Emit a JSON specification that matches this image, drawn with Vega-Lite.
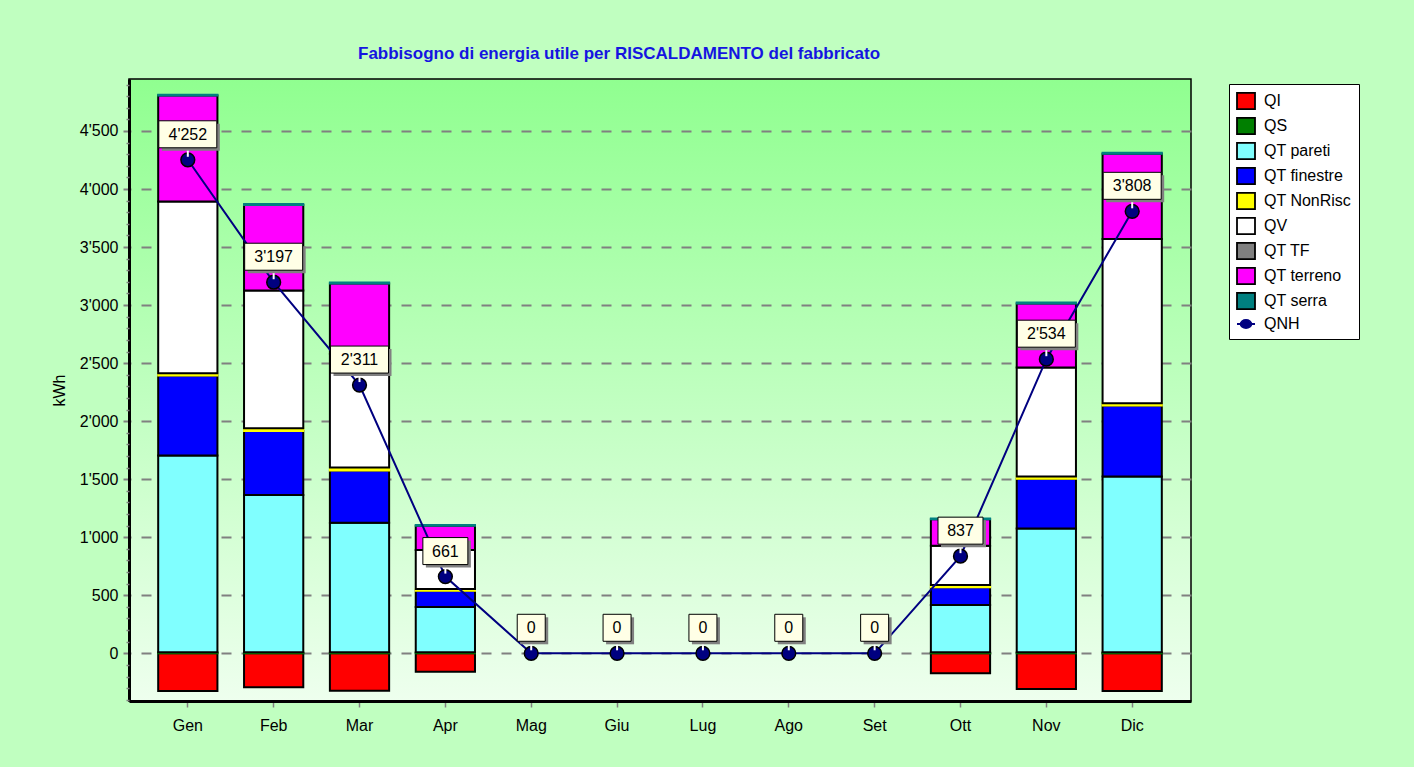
{
  "$schema": "https://vega.github.io/schema/vega-lite/v6.json",
  "width": 1062,
  "height": 622,
  "autosize": {"type": "none"},
  "padding": {"left": 129, "top": 79, "right": 223, "bottom": 66},
  "background": "#C0FFC0",
  "title": {
    "text": "Fabbisogno di energia utile per RISCALDAMENTO del fabbricato",
    "anchor": "start",
    "frame": "group",
    "dx": 229,
    "offset": 16,
    "fontSize": 17,
    "fontWeight": "bold",
    "color": "#1515E0"
  },
  "datasets": {
    "voci": [
      {"mese": "Gen", "voce": "QI", "kWh": -325},
      {"mese": "Gen", "voce": "QS", "kWh": 8},
      {"mese": "Gen", "voce": "QT pareti", "kWh": 1697},
      {"mese": "Gen", "voce": "QT finestre", "kWh": 689},
      {"mese": "Gen", "voce": "QT NonRisc", "kWh": 18},
      {"mese": "Gen", "voce": "QV", "kWh": 1480},
      {"mese": "Gen", "voce": "QT terreno", "kWh": 913},
      {"mese": "Gen", "voce": "QT serra", "kWh": 8},
      {"mese": "Feb", "voce": "QI", "kWh": -293},
      {"mese": "Feb", "voce": "QS", "kWh": 8},
      {"mese": "Feb", "voce": "QT pareti", "kWh": 1356},
      {"mese": "Feb", "voce": "QT finestre", "kWh": 552},
      {"mese": "Feb", "voce": "QT NonRisc", "kWh": 22},
      {"mese": "Feb", "voce": "QV", "kWh": 1188},
      {"mese": "Feb", "voce": "QT terreno", "kWh": 737},
      {"mese": "Feb", "voce": "QT serra", "kWh": 8},
      {"mese": "Mar", "voce": "QI", "kWh": -322},
      {"mese": "Mar", "voce": "QS", "kWh": 8},
      {"mese": "Mar", "voce": "QT pareti", "kWh": 1117},
      {"mese": "Mar", "voce": "QT finestre", "kWh": 450},
      {"mese": "Mar", "voce": "QT NonRisc", "kWh": 25},
      {"mese": "Mar", "voce": "QV", "kWh": 980},
      {"mese": "Mar", "voce": "QT terreno", "kWh": 607},
      {"mese": "Mar", "voce": "QT serra", "kWh": 8},
      {"mese": "Apr", "voce": "QI", "kWh": -160},
      {"mese": "Apr", "voce": "QS", "kWh": 8},
      {"mese": "Apr", "voce": "QT pareti", "kWh": 391},
      {"mese": "Apr", "voce": "QT finestre", "kWh": 140},
      {"mese": "Apr", "voce": "QT NonRisc", "kWh": 15},
      {"mese": "Apr", "voce": "QV", "kWh": 336},
      {"mese": "Apr", "voce": "QT terreno", "kWh": 208},
      {"mese": "Apr", "voce": "QT serra", "kWh": 8},
      {"mese": "Ott", "voce": "QI", "kWh": -172},
      {"mese": "Ott", "voce": "QS", "kWh": 8},
      {"mese": "Ott", "voce": "QT pareti", "kWh": 408},
      {"mese": "Ott", "voce": "QT finestre", "kWh": 152},
      {"mese": "Ott", "voce": "QT NonRisc", "kWh": 20},
      {"mese": "Ott", "voce": "QV", "kWh": 339},
      {"mese": "Ott", "voce": "QT terreno", "kWh": 227},
      {"mese": "Ott", "voce": "QT serra", "kWh": 8},
      {"mese": "Nov", "voce": "QI", "kWh": -307},
      {"mese": "Nov", "voce": "QS", "kWh": 8},
      {"mese": "Nov", "voce": "QT pareti", "kWh": 1068},
      {"mese": "Nov", "voce": "QT finestre", "kWh": 428},
      {"mese": "Nov", "voce": "QT NonRisc", "kWh": 20},
      {"mese": "Nov", "voce": "QV", "kWh": 938},
      {"mese": "Nov", "voce": "QT terreno", "kWh": 552},
      {"mese": "Nov", "voce": "QT serra", "kWh": 8},
      {"mese": "Dic", "voce": "QI", "kWh": -325},
      {"mese": "Dic", "voce": "QS", "kWh": 8},
      {"mese": "Dic", "voce": "QT pareti", "kWh": 1515},
      {"mese": "Dic", "voce": "QT finestre", "kWh": 612},
      {"mese": "Dic", "voce": "QT NonRisc", "kWh": 19},
      {"mese": "Dic", "voce": "QV", "kWh": 1415},
      {"mese": "Dic", "voce": "QT terreno", "kWh": 735},
      {"mese": "Dic", "voce": "QT serra", "kWh": 8}
    ],
    "qnh": [
      {"mese": "Gen", "QNH": 4252},
      {"mese": "Feb", "QNH": 3197},
      {"mese": "Mar", "QNH": 2311},
      {"mese": "Apr", "QNH": 661},
      {"mese": "Mag", "QNH": 0},
      {"mese": "Giu", "QNH": 0},
      {"mese": "Lug", "QNH": 0},
      {"mese": "Ago", "QNH": 0},
      {"mese": "Set", "QNH": 0},
      {"mese": "Ott", "QNH": 837},
      {"mese": "Nov", "QNH": 2534},
      {"mese": "Dic", "QNH": 3808}
    ]
  },
  "encoding": {
    "x": {
      "field": "mese",
      "type": "nominal",
      "sort": null,
      "scale": {
        "domain": ["Gen", "Feb", "Mar", "Apr", "Mag", "Giu", "Lug", "Ago", "Set", "Ott", "Nov", "Dic"],
        "paddingInner": 0.31,
        "paddingOuter": 0.34
      },
      "axis": {"title": null, "labelAngle": 0, "tickSize": 6, "labelPadding": 10, "tickColor": "#808080", "tickWidth": 1.5}
    }
  },
  "layer": [
    {
      "data": {"name": "voci"},
      "transform": [
        {"calculate": "indexof(['QI', 'QS', 'QT pareti', 'QT finestre', 'QT NonRisc', 'QV', 'QT TF', 'QT terreno', 'QT serra'], datum.voce)", "as": "ordine_pila"}
      ],
      "mark": {"type": "bar", "strokeWidth": 2, "opacity": 1},
      "encoding": {
        "y": {
          "field": "kWh",
          "type": "quantitative",
          "stack": "zero",
          "scale": {"domain": [-411, 4948], "nice": false, "zero": false},
          "axis": {
            "orient": "left",
            "title": "kWh",
            "values": [0, 500, 1000, 1500, 2000, 2500, 3000, 3500, 4000, 4500],
            "format": ",.0f",
            "tickSize": 6,
            "tickWidth": 2,
            "tickColor": "#808080",
            "labelPadding": 5,
            "titlePadding": 12,
            "grid": true,
            "gridColor": "#808080",
            "gridWidth": 2,
            "gridDash": [10, 10],
            "gridDashOffset": -12
          }
        },
        "order": {"field": "ordine_pila", "type": "quantitative", "sort": "ascending"},
        "color": {
          "field": "voce",
          "type": "nominal",
          "sort": ["QI", "QS", "QT pareti", "QT finestre", "QT NonRisc", "QV", "QT TF", "QT terreno", "QT serra", "QNH"],
          "scale": {
            "domain": ["QI", "QS", "QT pareti", "QT finestre", "QT NonRisc", "QV", "QT TF", "QT terreno", "QT serra", "QNH"],
            "range": ["#FF0000", "#007F00", "#80FFFF", "#0000FF", "#FFFF00", "#FFFFFF", "#808080", "#FF00FF", "#008080", "#000080"]
          },
          "legend": {
            "orient": "none",
            "legendX": 1100,
            "legendY": 5,
            "title": null,
            "fillColor": "#FFFFFF",
            "strokeColor": "#000000",
            "padding": 7,
            "labelFontSize": 16,
            "labelColor": "#000000",
            "labelOffset": 8,
            "symbolSize": 324,
            "rowPadding": 1,
            "symbolOpacity": 1,
            "symbolStrokeWidth": 1.8,
            "symbolType": {"expr": "datum.value === 'QNH' ? 'M-1,0H-0.6M0.6,0H1M-0.6,0A0.6,0.45 0 1,1 0.6,0A0.6,0.45 0 1,1 -0.6,0Z' : 'M-1,-0.9H1V0.9H-1Z'"},
            "symbolStrokeColor": {"expr": "datum.value === 'QNH' ? '#000080' : '#000000'"}
          }
        },
        "stroke": {
          "field": "voce",
          "type": "nominal",
          "scale": {
            "domain": ["QI", "QS", "QT pareti", "QT finestre", "QT NonRisc", "QV", "QT TF", "QT terreno", "QT serra"],
            "range": ["#000000", "#007F00", "#000000", "#000000", "#FFFF00", "#000000", "#000000", "#000000", "#008080"]
          },
          "legend": null
        }
      }
    },
    {
      "data": {"name": "qnh"},
      "mark": {"type": "line", "strokeWidth": 2, "color": "#000080"},
      "encoding": {
        "y": {
          "field": "QNH",
          "type": "quantitative",
          "axis": {
            "orient": "left",
            "title": null,
            "labels": false,
            "domain": false,
            "grid": false,
            "tickSize": 3,
            "tickWidth": 1.5,
            "tickColor": "#808080",
            "values": [-400, -300, -200, -100, 100, 200, 300, 400, 600, 700, 800, 900, 1100, 1200, 1300, 1400, 1600, 1700, 1800, 1900, 2100, 2200, 2300, 2400, 2600, 2700, 2800, 2900, 3100, 3200, 3300, 3400, 3600, 3700, 3800, 3900, 4100, 4200, 4300, 4400, 4600, 4700, 4800, 4900]
          }
        }
      }
    },
    {
      "data": {"name": "qnh"},
      "mark": {"type": "point", "shape": "circle", "filled": true, "size": 190, "fill": "#000080", "stroke": "#000000", "strokeWidth": 1.5, "opacity": 1},
      "encoding": {
        "y": {"field": "QNH", "type": "quantitative", "axis": null}
      }
    },
    {
      "data": {"name": "qnh"},
      "mark": {"type": "rule", "color": "#FFFFFF", "strokeWidth": 2, "yOffset": -3, "y2Offset": -12},
      "encoding": {
        "y": {"field": "QNH", "type": "quantitative", "axis": null},
        "y2": {"field": "QNH"}
      }
    },
    {
      "data": {"name": "qnh"},
      "mark": {
        "type": "bar",
        "fill": "#808080",
        "opacity": 1,
        "xOffset": 3,
        "yOffset": -36,
        "y2Offset": -9,
        "width": {"expr": "datum.QNH >= 1000 ? 58 : (datum.QNH >= 10 ? 45 : 28)"}
      },
      "encoding": {
        "y": {"field": "QNH", "type": "quantitative", "axis": null, "stack": null},
        "y2": {"field": "QNH"}
      }
    },
    {
      "data": {"name": "qnh"},
      "mark": {
        "type": "bar",
        "fill": "#FFFFE6",
        "stroke": "#000000",
        "strokeWidth": 1,
        "opacity": 1,
        "yOffset": -39,
        "y2Offset": -12,
        "width": {"expr": "datum.QNH >= 1000 ? 58 : (datum.QNH >= 10 ? 45 : 28)"}
      },
      "encoding": {
        "y": {"field": "QNH", "type": "quantitative", "axis": null, "stack": null},
        "y2": {"field": "QNH"}
      }
    },
    {
      "data": {"name": "qnh"},
      "mark": {"type": "text", "fontSize": 16, "color": "#000000", "baseline": "middle", "align": "center", "yOffset": -25},
      "encoding": {
        "y": {"field": "QNH", "type": "quantitative", "axis": null},
        "text": {"field": "QNH", "type": "quantitative", "format": ",.0f"}
      }
    }
  ],
  "resolve": {"axis": {"y": "independent"}},
  "config": {
    "font": "Liberation Sans",
    "locale": {
      "number": {"decimal": ".", "thousands": "'", "grouping": [3], "currency": ["", " €"]}
    },
    "view": {
      "fill": {
        "gradient": "linear",
        "x1": 0, "y1": 0, "x2": 0, "y2": 1,
        "stops": [
          {"offset": 0, "color": "#90FF90"},
          {"offset": 1, "color": "#EEFFEE"}
        ]
      },
      "stroke": "#000000",
      "strokeWidth": 1.5
    },
    "axis": {
      "labelFontSize": 16,
      "labelColor": "#000000",
      "labelFont": "Liberation Sans",
      "titleFontSize": 16,
      "titleFontWeight": "normal",
      "titleColor": "#000000",
      "titleFont": "Liberation Sans",
      "domainColor": "#000000",
      "domainWidth": 3
    },
    "legend": {"labelFont": "Liberation Sans"}
  }
}
